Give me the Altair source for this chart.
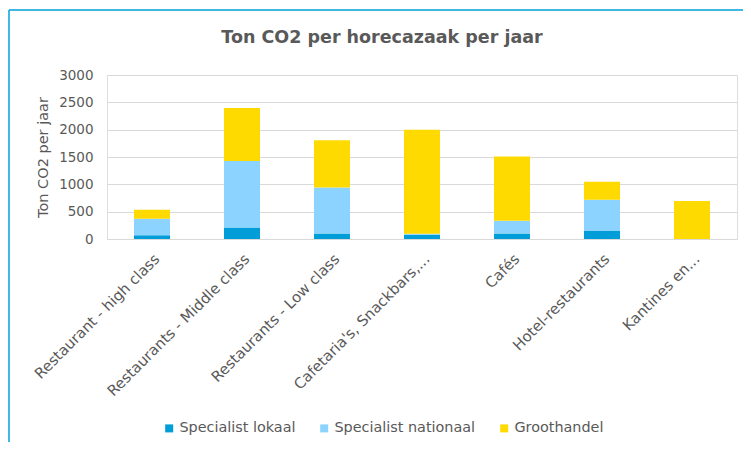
import altair as alt
import pandas as pd

categories = [
    "Restaurant - high class",
    "Restaurants - Middle class",
    "Restaurants - Low class",
    "Cafetaria's, Snackbars,...",
    "Cafés",
    "Hotel-restaurants",
    "Kantines en...",
]
series = ["Specialist lokaal", "Specialist nationaal", "Groothandel"]
lokaal = [70, 210, 100, 80, 100, 145, 0]
nationaal = [300, 1215, 840, 15, 235, 575, 0]
groothandel = [165, 970, 865, 1905, 1175, 325, 695]
colors = ["#009DD9", "#8DD3FF", "#FFDA00"]
y_ticks = [0, 500, 1000, 1500, 2000, 2500, 3000]
title_text = "Ton CO2 per horecazaak per jaar"

rows = []
for i, c in enumerate(categories):
    for j, (s, vals) in enumerate(zip(series, [lokaal, nationaal, groothandel])):
        rows.append({"cat": c, "serie": s, "val": vals[i], "idx": j})
df = pd.DataFrame(rows)

FONT = "DejaVu Sans"
GRAY = "#595959"

bars = alt.Chart(df).mark_bar(size=36).encode(
    x=alt.X("cat:N", sort=categories, title=None,
            scale=alt.Scale(paddingInner=0.6, paddingOuter=0.3),
            axis=alt.Axis(labelAngle=-45, labelFontSize=14.8, labelColor=GRAY,
                          labelFont=FONT, ticks=False, domain=False, labelPadding=12,
                          labelLimit=300)),
    y=alt.Y("val:Q", stack="zero", title="Ton CO2 per jaar",
            scale=alt.Scale(domain=[0, 3000], nice=False),
            axis=alt.Axis(values=y_ticks, format="d", labelFontSize=13.5, labelColor=GRAY,
                          labelFont=FONT, ticks=False, domain=False, labelPadding=14,
                          titleFont=FONT, titleFontSize=14.5, titleColor=GRAY,
                          titleFontWeight="normal", titlePadding=8,
                          gridColor="#D9D9D9", gridWidth=1.2)),
    color=alt.Color("serie:N", sort=series,
                    scale=alt.Scale(domain=series, range=colors),
                    legend=alt.Legend(title=None, orient="none", direction="horizontal",
                                      legendX=55, legendY=346, symbolType="square",
                                      symbolSize=64, symbolStrokeWidth=0,
                                      labelFont=FONT, labelFontSize=14.4,
                                      labelColor=GRAY, columnPadding=21,
                                      symbolOffset=0, labelOffset=3)),
    order=alt.Order("idx:Q", sort="ascending"),
)

title = alt.Chart().mark_text(font=FONT, fontSize=17.5, fontWeight="bold", color=GRAY,
                              align="center", baseline="middle").encode(
    x=alt.value(275), y=alt.value(-37), text=alt.value(title_text))

border_top = alt.Chart().mark_rule(color="#00A0DC", strokeWidth=1.5).encode(
    x=alt.value(-98), x2=alt.value(640), y=alt.value(-65))
border_left = alt.Chart().mark_rule(color="#00A0DC", strokeWidth=1.5).encode(
    x=alt.value(-98), y=alt.value(-65), y2=alt.value(370))

chart = alt.layer(bars, title, border_top, border_left).properties(
    width=630, height=164,
    autosize=alt.AutoSizeParams(type="none"),
    padding={"left": 99, "top": 67, "right": 6, "bottom": 203},
).configure_view(stroke="#D9D9D9", strokeWidth=1.5).configure(background="white")

chart.save("out.html", embed_options={"renderer": "svg", "actions": False})
